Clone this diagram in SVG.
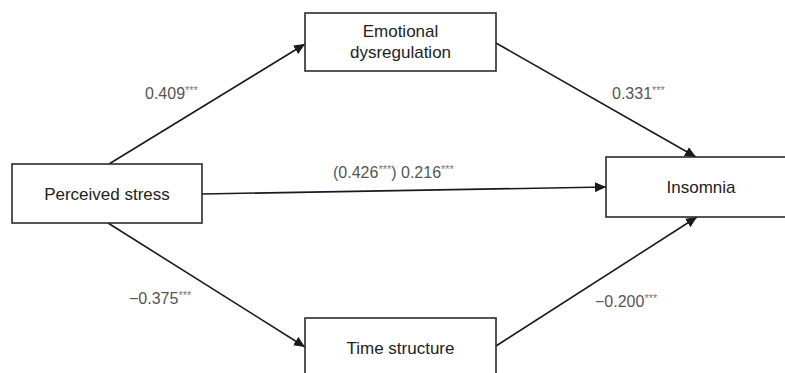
<svg xmlns="http://www.w3.org/2000/svg" width="785" height="373" viewBox="0 0 785 373">
<defs>
<marker id="ah" markerUnits="userSpaceOnUse" markerWidth="12" markerHeight="10" refX="11" refY="5" orient="auto">
<path d="M0,0 L11,5 L0,10 Z" fill="#1a1a1a"/>
</marker>
<style>
.box{fill:#fff;stroke:#2b2b2b;stroke-width:1.6}
.nt{font-family:"Liberation Sans",Arial,sans-serif;font-size:17px;fill:#222;text-anchor:middle}
.lb{font-family:"Liberation Sans",Arial,sans-serif;font-size:16px;fill:#555}
.sup{font-size:11px;fill:#777}
.cn{stroke:#1a1a1a;stroke-width:1.6;fill:none;marker-end:url(#ah)}
</style>
</defs>
<rect width="785" height="373" fill="#fff"/>
<g id="connectors">
<line class="cn" x1="109" y1="164" x2="305" y2="44"/>
<line class="cn" x1="496" y1="43" x2="696" y2="157"/>
<line class="cn" x1="202" y1="194" x2="606" y2="187"/>
<line class="cn" x1="108" y1="223" x2="305" y2="347"/>
<line class="cn" x1="496" y1="346" x2="697" y2="217"/>
</g>
<g id="node-emotional">
<rect class="box" x="305" y="13" width="191" height="58"/>
<text class="nt" x="400.5" y="37">Emotional</text>
<text class="nt" x="400.5" y="58">dysregulation</text>
</g>
<g id="node-perceived">
<rect class="box" x="12" y="164" width="190" height="59"/>
<text class="nt" x="107" y="200">Perceived stress</text>
</g>
<g id="node-insomnia">
<rect class="box" x="606" y="157" width="200" height="60"/>
<text class="nt" x="701" y="193">Insomnia</text>
</g>
<g id="node-time">
<rect class="box" x="305" y="318" width="191" height="70"/>
<text class="nt" x="400.5" y="354">Time structure</text>
</g>
<g id="labels">
<text class="lb" x="145" y="99">0.409<tspan class="sup" dy="-5">***</tspan></text>
<text class="lb" x="612" y="99">0.331<tspan class="sup" dy="-5">***</tspan></text>
<text class="lb" x="333" y="178">(0.426<tspan class="sup" dy="-5">***</tspan><tspan dy="5">) 0.216</tspan><tspan class="sup" dy="-5">***</tspan></text>
<text class="lb" x="129" y="304">−0.375<tspan class="sup" dy="-5">***</tspan></text>
<text class="lb" x="595" y="307">−0.200<tspan class="sup" dy="-5">***</tspan></text>
</g>
</svg>
